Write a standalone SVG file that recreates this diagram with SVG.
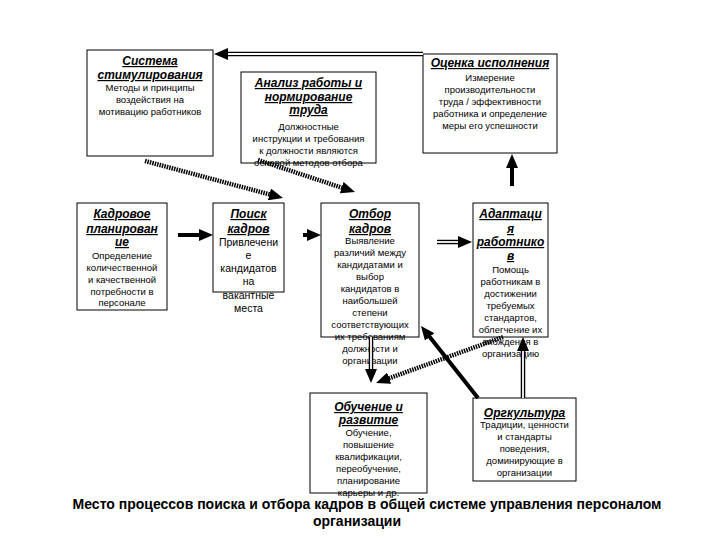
<svg xmlns="http://www.w3.org/2000/svg" width="720" height="540" viewBox="0 0 720 540">
<defs>
<style>
text{font-family:"Liberation Sans",Arial,sans-serif;fill:#000;text-anchor:middle}
.t{font-size:12px;font-weight:bold;font-style:italic;text-decoration:underline}
.b{font-size:9.5px}
.b2{font-size:10.5px}
.cap{font-size:14px;font-weight:bold}
.box{fill:#fff;stroke:#000;stroke-width:1}
.thick{stroke:#000;stroke-width:4;fill:none;marker-end:url(#ah)}
.hatch{stroke:#000;stroke-width:4.5;fill:none;stroke-dasharray:1.5 1;marker-end:url(#ah)}
.dbl{stroke:#000;stroke-width:4.5;fill:none;marker-end:url(#ah)}
.dbl-in{stroke:#fff;stroke-width:1.8;fill:none}
</style>
<marker id="ah" markerUnits="userSpaceOnUse" markerWidth="14" markerHeight="12" viewBox="0 0 14 12" refX="4" refY="6" orient="auto">
<path d="M0,0 L14,6 L0,12 z" fill="#000"/>
</marker>
</defs>
<rect width="720" height="540" fill="#fff"/>

<g id="n-stim">
<rect class="box" x="87" y="50" width="126" height="106"/>
<text class="t" x="150" y="65">Система</text>
<text class="t" x="150" y="79">стимулирования</text>
<text class="b" x="150" y="91">Методы и принципы</text>
<text class="b" x="150" y="103">воздействия на</text>
<text class="b" x="150" y="115">мотивацию работников</text>
</g>

<g id="n-analiz">
<rect class="box" x="241" y="72" width="135" height="91"/>
<text class="t" x="308.5" y="87">Анализ работы и</text>
<text class="t" x="308.5" y="101">нормирование</text>
<text class="t" x="308.5" y="114">труда</text>
<text class="b" x="308.5" y="130">Должностные</text>
<text class="b" x="308.5" y="142">инструкции и требования</text>
<text class="b" x="308.5" y="154">к должности являются</text>
<text class="b" x="308.5" y="166">основой методов отбора</text>
</g>

<g id="n-ocenka">
<rect class="box" x="423" y="54" width="134" height="99"/>
<text class="t" x="490" y="67">Оценка исполнения</text>
<text class="b" x="490" y="81">Измерение</text>
<text class="b" x="490" y="93">производительности</text>
<text class="b" x="490" y="105">труда / эффективности</text>
<text class="b" x="490" y="117">работника и определение</text>
<text class="b" x="490" y="129">меры его успешности</text>
</g>

<g id="n-plan">
<rect class="box" x="77" y="203" width="90" height="107"/>
<text class="t" x="122" y="218">Кадровое</text>
<text class="t" x="122" y="233">планирован</text>
<text class="t" x="122" y="246">ие</text>
<text class="b" x="122" y="259">Определение</text>
<text class="b" x="122" y="271">количественной</text>
<text class="b" x="122" y="283">и качественной</text>
<text class="b" x="122" y="295">потребности в</text>
<text class="b" x="122" y="306">персонале</text>
</g>

<g id="n-poisk">
<rect class="box" x="213" y="203" width="71" height="89"/>
<text class="t" x="248.5" y="218">Поиск</text>
<text class="t" x="248.5" y="233">кадров</text>
<text class="b2" x="248.5" y="246">Привлечени</text>
<text class="b2" x="248.5" y="259">е</text>
<text class="b2" x="248.5" y="272">кандидатов</text>
<text class="b2" x="248.5" y="285">на</text>
<text class="b2" x="248.5" y="299">вакантные</text>
<text class="b2" x="248.5" y="312">места</text>
</g>

<g id="n-otbor">
<rect class="box" x="321" y="203" width="98" height="134"/>
<text class="t" x="370" y="218">Отбор</text>
<text class="t" x="370" y="233">кадров</text>
<text class="b" x="370" y="244">Выявление</text>
<text class="b" x="370" y="256">различий между</text>
<text class="b" x="370" y="268">кандидатами и</text>
<text class="b" x="370" y="280">выбор</text>
<text class="b" x="370" y="292">кандидатов в</text>
<text class="b" x="370" y="304">наибольшей</text>
<text class="b" x="370" y="316">степени</text>
<text class="b" x="370" y="328">соответствующих</text>
<text class="b" x="370" y="340">их требованиям</text>
<text class="b" x="370" y="352">должности и</text>
<text class="b" x="370" y="364">организации</text>
</g>

<g id="n-adapt">
<rect class="box" x="473" y="203" width="75" height="134"/>
<text class="t" x="510.5" y="218">Адаптаци</text>
<text class="t" x="510.5" y="233">я</text>
<text class="t" x="510.5" y="246">работнико</text>
<text class="t" x="510.5" y="260">в</text>
<text class="b" x="510.5" y="273">Помощь</text>
<text class="b" x="510.5" y="285">работникам в</text>
<text class="b" x="510.5" y="297">достижении</text>
<text class="b" x="510.5" y="309">требуемых</text>
<text class="b" x="510.5" y="321">стандартов,</text>
<text class="b" x="510.5" y="333">облегчение их</text>
<text class="b" x="510.5" y="345">вхождения в</text>
<text class="b" x="510.5" y="357">организацию</text>
</g>

<g id="n-obuch">
<rect class="box" x="310" y="393" width="117" height="100"/>
<text class="t" x="368.5" y="411">Обучение и</text>
<text class="t" x="368.5" y="424">развитие</text>
<text class="b" x="368.5" y="436">Обучение,</text>
<text class="b" x="368.5" y="448">повышение</text>
<text class="b" x="368.5" y="460">квалификации,</text>
<text class="b" x="368.5" y="472">переобучение,</text>
<text class="b" x="368.5" y="484">планирование</text>
<text class="b" x="368.5" y="495.5">карьеры и др.</text>
</g>

<g id="n-orgk">
<rect class="box" x="473" y="398" width="103" height="83"/>
<text class="t" x="524.5" y="417">Оргкультура</text>
<text class="b" x="524.5" y="428">Традиции, ценности</text>
<text class="b" x="524.5" y="440">и стандарты</text>
<text class="b" x="524.5" y="452">поведения,</text>
<text class="b" x="524.5" y="464">доминирующие в</text>
<text class="b" x="524.5" y="476">организации</text>
</g>

<g id="connectors">
<line class="dbl" x1="423" y1="54" x2="224" y2="54"/>
<line class="dbl-in" x1="423" y1="54" x2="228" y2="54"/>
<line class="thick" x1="512" y1="186" x2="512" y2="164"/>
<line class="thick" x1="178" y1="235" x2="203" y2="235"/>
<line class="thick" x1="303" y1="235" x2="311" y2="235"/>
<line class="dbl" x1="437" y1="242" x2="462" y2="242"/>
<line class="dbl-in" x1="437" y1="242" x2="458" y2="242"/>
<line class="hatch" x1="145" y1="161" x2="273.3" y2="195.4"/>
<line class="hatch" x1="258" y1="160" x2="345.5" y2="188.9"/>
<line class="dbl" x1="371" y1="337" x2="371" y2="373"/>
<line class="dbl-in" x1="371" y1="337" x2="371" y2="369"/>
<line class="hatch" x1="503" y1="337" x2="385.4" y2="379.6"/>
<line class="thick" x1="478" y1="398" x2="427.2" y2="333.8"/>
<line class="dbl" x1="523" y1="398" x2="523" y2="347"/>
<line class="dbl-in" x1="523" y1="398" x2="523" y2="351"/>
</g>

<g id="caption">
<text class="cap" x="367" y="509">Место процессов поиска и отбора кадров в общей системе управления персоналом</text>
<text class="cap" x="357" y="526">организации</text>
</g>
</svg>
